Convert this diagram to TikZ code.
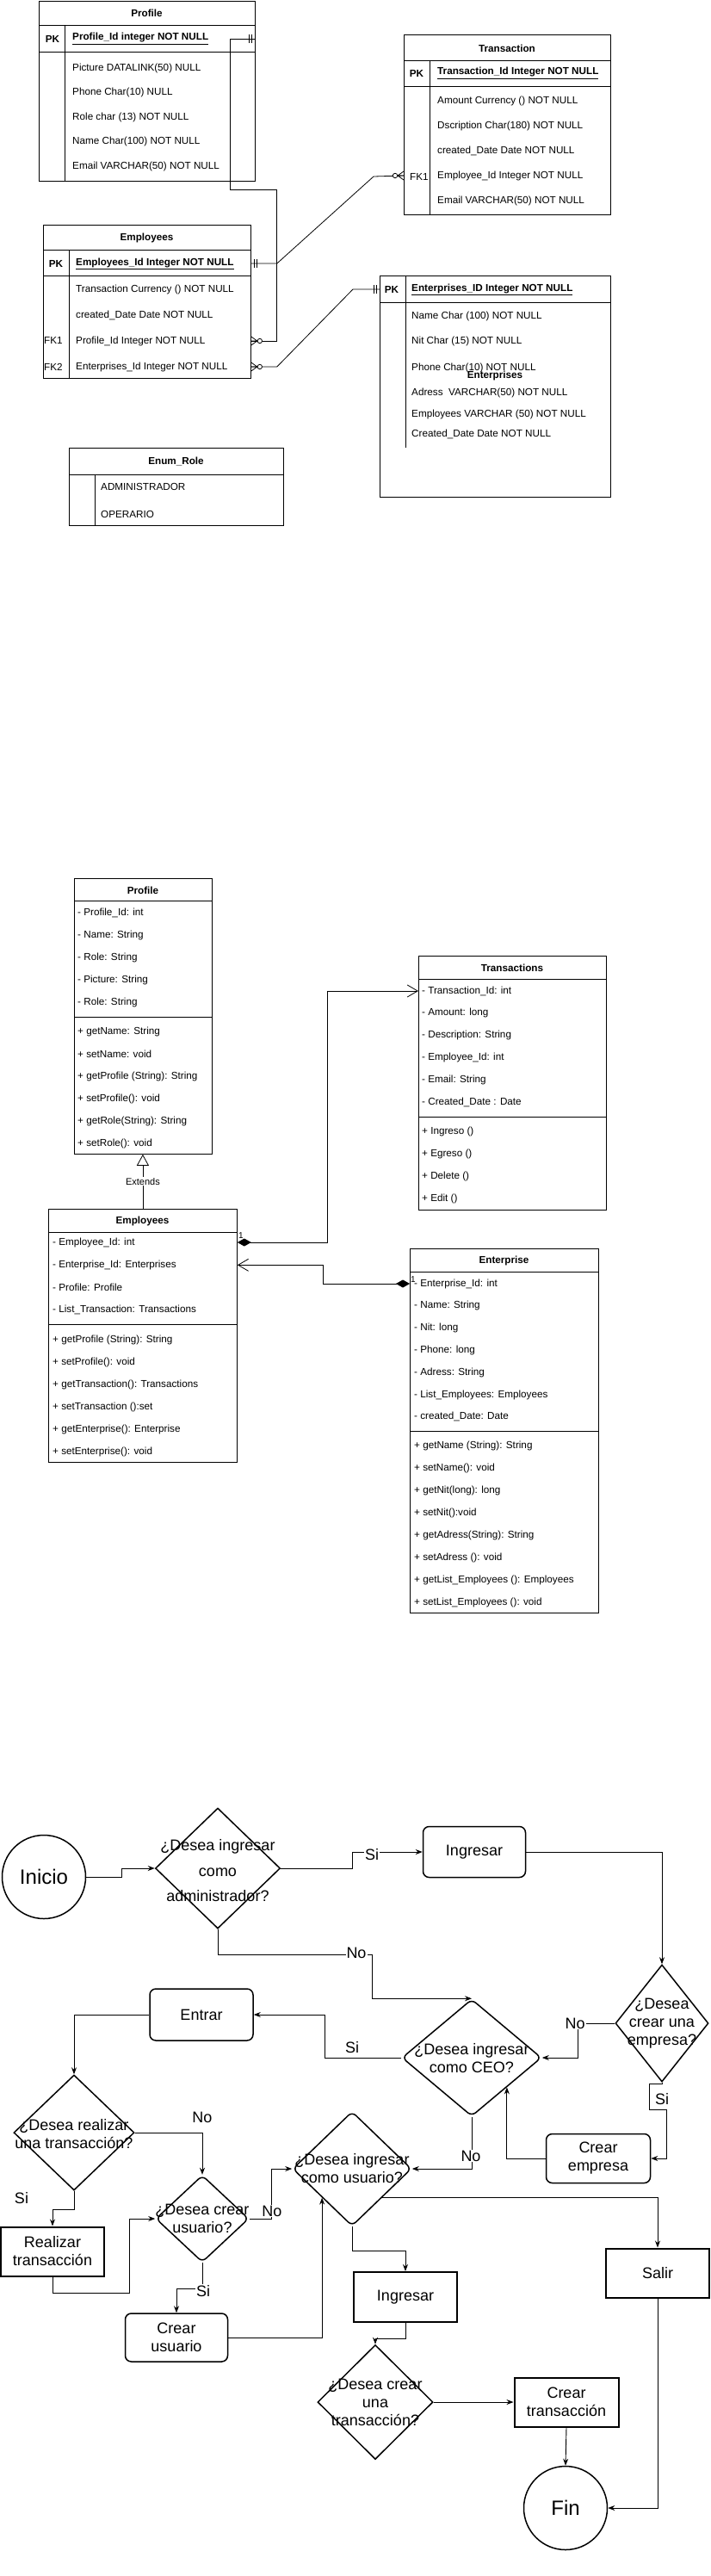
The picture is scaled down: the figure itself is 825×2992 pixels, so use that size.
\documentclass[tikz,border=0pt]{standalone}
\usepackage{fontspec}
\setmainfont{Liberation Sans}
\usetikzlibrary{shapes.geometric,arrows.meta}
\newcommand{\erfont}{\fontsize{11.7}{14}\selectfont}
\newcommand{\fcfont}{\fontsize{18}{21}\selectfont}
\tikzset{
  er/.style={draw, line width=0.8pt},
  frame/.style={draw, line width=0.8pt, anchor=north west, inner sep=0pt},
  ertx/.style={anchor=west, inner sep=0pt, font=\erfont},
  erbf/.style={inner sep=0pt, font=\erfont\bfseries},
  one/.pic={\draw[line width=0.8pt] (4,-5) -- (4,5) (7,-5) -- (7,5);},
  many/.pic={\draw[line width=0.8pt] (0,-5) -- (7,0) -- (0,5) (0,0) -- (7,0);
    \draw[line width=0.8pt, fill=white] (10,0) circle (2.7pt);},
  comp/.style={line width=0.8pt, {Diamond[length=16pt,width=9pt]}-{Straight Barb[length=12pt,width=14pt]}},
  circ/.style={circle, draw, line width=1.5pt, minimum size=97pt, font=\fontsize{24}{28}\selectfont},
  rbox/.style={draw, rounded corners=7pt, line width=1.5pt, align=center, font=\fcfont},
  sbox/.style={draw, line width=2pt, align=center, font=\fcfont},
  dia/.style={diamond, draw, line width=1.5pt, inner sep=0pt},
  dtxt/.style={align=center, inner sep=0pt, font=\fcfont},
  flow/.style={line width=0.9pt, -{Stealth[length=8pt,width=6pt]}},
  lbl/.style={fill=white, inner sep=1pt, font=\fcfont},
  tag/.style={inner sep=0pt, font=\fcfont}
}
\begin{document}
\begin{tikzpicture}[x=1pt,y=-1pt]
\useasboundingbox (0,0) rectangle (825,2992);

% ---------- ER model
\node[frame, minimum width=251pt, minimum height=209pt] (erProfile) at (45,1) {};
\draw[er] (45,29) -- (296,29) (45,60) -- (296,60) (75,29) -- (75,210);
\node[erbf] (erProfileT) at (170.5,15) {Profile};
\node[erbf] (erProfileK) at (61,45) {PK};
\node[ertx, font=\erfont\bfseries] (erProfilePK) at (84,45) {\underline{Profile\_Id integer NOT NULL}};
\foreach \t [count=\i from 0] in {Picture DATALINK(50) NULL, Phone Char(10) NULL,
    Role char (13) NOT NULL, Name Char(100) NOT NULL, Email VARCHAR(50) NOT NULL}
  \node[ertx] (erProfile\i) at (84,{79+28.6*\i}) {\t};

\node[frame, minimum width=240pt, minimum height=209pt] (erTransaction) at (469,40) {};
\draw[er] (469,70) -- (709,70) (469,100) -- (709,100) (499,70) -- (499,249);
\node[erbf] (erTransactionT) at (589,56) {Transaction};
\node[erbf] (erTransactionK) at (484,85) {PK};
\node[ertx, font=\erfont\bfseries] (erTransactionPK) at (508,85) {\underline{Transaction\_Id Integer NOT NULL}};
\foreach \t [count=\i from 0] in {Amount Currency () NOT NULL, Dscription Char(180) NOT NULL,
    created\_Date Date NOT NULL, Employee\_Id Integer NOT NULL, Email VARCHAR(50) NOT NULL}
  \node[ertx] (erTransaction\i) at (508,{117+29*\i}) {\t};
\node[ertx] (erTransactionF) at (476,205) {FK1};

\node[frame, minimum width=241pt, minimum height=178pt] (erEmployees) at (50,261) {};
\draw[er] (50,290) -- (291,290) (50,320) -- (291,320) (80,290) -- (80,439);
\node[erbf] (erEmployeesT) at (170.5,276) {Employees};
\node[erbf] (erEmployeesK) at (65,306) {PK};
\node[ertx, font=\erfont\bfseries] (erEmployeesPK) at (88,306) {\underline{Employees\_Id Integer NOT NULL}};
\foreach \t [count=\i from 0] in {Transaction Currency () NOT NULL, created\_Date Date NOT NULL,
    Profile\_Id Integer NOT NULL, Enterprises\_Id Integer NOT NULL}
  \node[ertx] (erEmployees\i) at (88,{336+30*\i}) {\t};
\node[ertx] (erEmployeesF1) at (51,395) {FK1};
\node[ertx] (erEmployeesF2) at (51,426) {FK2};

\node[frame, minimum width=268pt, minimum height=257pt] (erEnterprises) at (441,320) {};
\draw[er] (441,351) -- (709,351) (471,320) -- (471,520);
\node[erbf] (erEnterprisesK) at (455,336) {PK};
\node[ertx, font=\erfont\bfseries] (erEnterprisesPK) at (478,336) {\underline{Enterprises\_ID Integer NOT NULL}};
\foreach \y/\t [count=\i from 0] in {367/Name Char (100) NOT NULL, 396/Nit Char (15) NOT NULL,
    427/Phone Char(10) NOT NULL, 456/Adress~ VARCHAR(50) NOT NULL,
    481/Employees VARCHAR (50) NOT NULL, 504/Created\_Date Date NOT NULL}
  \node[ertx] (erEnterprises\i) at (478,\y) {\t};
\node[erbf] (erEnterprisesT) at (575,436) {Enterprises};

\node[frame, minimum width=249pt, minimum height=90pt] (erRole) at (80,520) {};
\draw[er] (80,551) -- (329,551) (110,551) -- (110,610);
\node[erbf] (erRoleT) at (204.5,536) {Enum\_Role};
\node[ertx] (erRole0) at (117,565) {ADMINISTRADOR};
\node[ertx] (erRole1) at (117,597) {OPERARIO};

% relations
\draw[er] (erProfile.east |- erProfilePK) -- (267,45) -- (267,220) -- (321,220) |- (erEmployees.east |- erEmployees2);
\draw[er] (erEmployees.east |- erEmployeesPK) -- ++(30,0) -- (434,205) -- (erTransaction.west |- erTransaction3);
\draw[er] (erEmployees.east |- erEmployees3) -- ++(30,0) -- (410,336) -- (erEnterprises.west |- erEnterprisesPK);
\pic[rotate=180] at (erProfile.east |- erProfilePK) {one};
\pic at (erEmployees.east |- erEmployees2) {many};
\pic at (erEmployees.east |- erEmployeesPK) {one};
\pic[rotate=180] at (erTransaction.west |- erTransaction3) {many};
\pic at (erEmployees.east |- erEmployees3) {many};
\pic[rotate=180] at (erEnterprises.west |- erEnterprisesPK) {one};

% ---------- class diagram
\node[frame, minimum width=160pt, minimum height=320pt] (umlProfile) at (86,1020) {};
\draw[er] (86,1046) -- (246,1046) (86,1181) -- (246,1181);
\node[erbf] (umlProfileT) at (166,1034) {Profile};
\foreach \t [count=\i from 0] in {- Profile\_Id: int, - Name: String, - Role: String, - Picture: String, - Role: String}
  \node[ertx] (umlProfileA\i) at (90,{1060+26*\i}) {\t};
\foreach \t [count=\i from 0] in {+ getName: String, + setName: void, + getProfile (String): String,
    + setProfile(): void, + getRole(String): String, + setRole(): void}
  \node[ertx] (umlProfileM\i) at (90,{1198+26*\i}) {\t};

\node[frame, minimum width=219pt, minimum height=294pt] (umlEmployees) at (56,1404) {};
\draw[er] (56,1431) -- (275,1431) (56,1538) -- (275,1538);
\node[erbf] (umlEmployeesT) at (165.5,1418) {Employees};
\foreach \t [count=\i from 0] in {- Employee\_Id: int, - Enterprise\_Id: Enterprises, - Profile: Profile,
    - List\_Transaction: Transactions}
  \node[ertx] (umlEmployeesA\i) at (61,{1443+26.3*\i}) {\t};
\foreach \t [count=\i from 0] in {+ getProfile (String): String, + setProfile(): void,
    + getTransaction(): Transactions, + setTransaction ():set, + getEnterprise(): Enterprise,
    + setEnterprise(): void}
  \node[ertx] (umlEmployeesM\i) at (61,{1556+26*\i}) {\t};

\node[frame, minimum width=218pt, minimum height=295pt] (umlTransactions) at (486,1110) {};
\draw[er] (486,1137) -- (704,1137) (486,1297) -- (704,1297);
\node[erbf] (umlTransactionsT) at (595,1124) {Transactions};
\foreach \t [count=\i from 0] in {- Transaction\_Id: int, - Amount: long, - Description: String,
    - Employee\_Id: int, - Email: String, - Created\_Date : Date}
  \node[ertx] (umlTransactionsA\i) at (490,{1151+25.8*\i}) {\t};
\foreach \t [count=\i from 0] in {+ Ingreso (), + Egreso (), + Delete (), + Edit ()}
  \node[ertx] (umlTransactionsM\i) at (490,{1314+26*\i}) {\t};

\node[frame, minimum width=219pt, minimum height=423pt] (umlEnterprise) at (476,1450) {};
\draw[er] (476,1477) -- (695,1477) (476,1662) -- (695,1662);
\node[erbf] (umlEnterpriseT) at (585.5,1464) {Enterprise};
\foreach \t [count=\i from 0] in {- Enterprise\_Id: int, - Name: String, - Nit: long, - Phone: long,
    - Adress: String, - List\_Employees: Employees, - created\_Date: Date}
  \node[ertx] (umlEnterpriseA\i) at (481,{1491+25.8*\i}) {\t};
\foreach \t [count=\i from 0] in {+ getName (String): String, + setName(): void, + getNit(long): long,
    + setNit():void, + getAdress(String): String, + setAdress (): void,
    + getList\_Employees (): Employees, + setList\_Employees (): void}
  \node[ertx] (umlEnterpriseM\i) at (481,{1679+26*\i}) {\t};

\draw[line width=0.8pt, -{Triangle[open,length=13pt,width=14pt]}] (umlEmployees.north)
  -- node[fill=white, inner sep=1pt, font=\fontsize{11}{13}\selectfont] (umlExtends) {Extends}
  (umlEmployees.north |- umlProfile.south);
\draw[comp] (umlEmployees.east |- umlEmployeesA0) -- ++(105,0) |- (umlTransactions.west |- umlTransactionsA0);
\draw[comp] (umlEnterprise.west |- umlEnterpriseA0) -- ++(-101,0) |- (umlEmployees.east |- umlEmployeesA1);
\node[anchor=south west, inner sep=1pt, yshift=3pt, font=\fontsize{10}{12}\selectfont] (umlOneA)
  at (umlEmployees.east |- umlEmployeesA0) {1};
\node[anchor=south west, inner sep=1pt, font=\fontsize{10}{12}\selectfont] (umlOneB)
  at (umlEnterprise.west |- umlEnterpriseA0) {1};

% ---------- flowchart
\node[circ] (inicio) at (51,2180) {Inicio};
\node[dia, minimum width=145pt, minimum height=140pt] (admin) at (253,2170) {};
\node[dtxt, font=\fontsize{18}{29.5}\selectfont] (adminT) at (253,2173) {¿Desea ingresar\\como\\administrador?};
\node[rbox, minimum width=119pt, minimum height=59pt] (ingresar) at (551,2151) {Ingresar};
\node[dia, minimum width=108pt, minimum height=136pt] (empresa) at (769,2350) {};
\node[dtxt] (empresaT) at (769,2350) {¿Desea\\crear una\\empresa?};
\node[rbox, minimum width=121pt, minimum height=57pt] (crEmpresa) at (695,2507) {Crear\\empresa};
\node[dia, rounded corners=6pt, minimum width=162pt, minimum height=136pt] (ceo) at (548,2390) {};
\node[dtxt] (ceoT) at (548,2391) {¿Desea ingresar\\como CEO?};
\node[rbox, minimum width=120pt, minimum height=60pt] (entrar) at (234,2340) {Entrar};
\node[dia, minimum width=140pt, minimum height=134pt] (realizar) at (86,2477) {};
\node[dtxt] (realizarT) at (86,2479) {¿Desea realizar\\una transacción?};
\node[sbox, minimum width=120pt, minimum height=57pt] (rTrans) at (61,2615) {Realizar\\transacción};
\node[dia, rounded corners=6pt, minimum width=108pt, minimum height=101pt] (crUsr) at (235,2577) {};
\node[dtxt] (crUsrT) at (235,2577) {¿Desea crear\\usuario?};
\node[rbox, minimum width=119pt, minimum height=56pt] (crUsuario) at (205,2715) {Crear\\usuario};
\node[dia, rounded corners=6pt, minimum width=138pt, minimum height=133pt] (usuario) at (409,2519) {};
\node[dtxt] (usuarioT) at (409,2519) {¿Desea ingresar\\como usuario?};
\node[sbox, minimum width=120pt, minimum height=58pt] (ingresar2) at (471,2668) {Ingresar};
\node[dia, minimum width=134pt, minimum height=133pt] (crTr) at (436,2790) {};
\node[dtxt] (crTrT) at (436,2790) {¿Desea crear\\una\\transacción?};
\node[sbox, minimum width=121pt, minimum height=57pt] (crTransaccion) at (658,2790) {Crear\\transacción};
\node[circ] (fin) at (657,2913) {Fin};
\node[sbox, minimum width=120pt, minimum height=57pt] (salir) at (764,2640) {Salir};

\draw[flow] (inicio.east) -- ++(41,0) |- (admin.west);
\draw[flow] (admin.east) -- ++(83,0) |- (ingresar.west);
\draw[flow] (ingresar.east) -| (empresa.north);
\draw[flow] (admin.south) |- (432,2270) |- (ceo.north);
\draw[flow] (empresa.west) -- ++(-43,0) |- (ceo.east);
\draw[flow] (empresa.south) -- ++(0,2) -- ++(-15,0) -- ++(0,30) -- ++(20,0) |- (crEmpresa.east);
\draw[flow] (crEmpresa.west) -| (ceo.south east);
\draw[flow] (ceo.west) -- ++(-89,0) |- (entrar.east);
\draw[flow] (entrar.west) -| (realizar.north);
\draw[flow] (realizar.east) -| (crUsr.north);
\draw[flow] (realizar.south) -- ++(0,22) -| (rTrans.north);
\draw[flow] (rTrans.south) -- ++(0,19) -- ++(89,0) |- (crUsr.west);
\draw[flow] (crUsr.east) -- ++(26,0) |- (usuario.west);
\draw[flow] (crUsr.south) -- ++(0,30) -| (crUsuario.north);
\draw[flow] (crUsuario.east) -| (usuario.south west);
\draw[flow] (ceo.south) |- (usuario.east);
\draw[flow] (usuario.south east) -| (salir.north);
\draw[flow] (usuario.south) -- ++(0,28) -| (ingresar2.north);
\draw[flow] (ingresar2.south) -- ++(0,18) -| (crTr.north);
\draw[flow] (crTr.east) -- (crTransaccion.west);
\draw[flow] (crTransaccion.south) -- (fin.north);
\draw[flow] (salir.south) |- (fin.east);

\node[lbl] (siA) at (432,2154) {Si};
\node[lbl] (noA) at (414,2268) {No};
\node[lbl] (noB) at (668,2350) {No};
\node[lbl] (siB) at (769,2438) {Si};
\node[tag] (siC) at (409,2378) {Si};
\node[tag] (noC) at (235,2459) {No};
\node[tag] (siD) at (25,2553) {Si};
\node[lbl] (noD) at (316,2568) {No};
\node[lbl] (siE) at (236,2661) {Si};
\node[lbl] (noE) at (547,2504) {No};
\end{tikzpicture}
\end{document}
